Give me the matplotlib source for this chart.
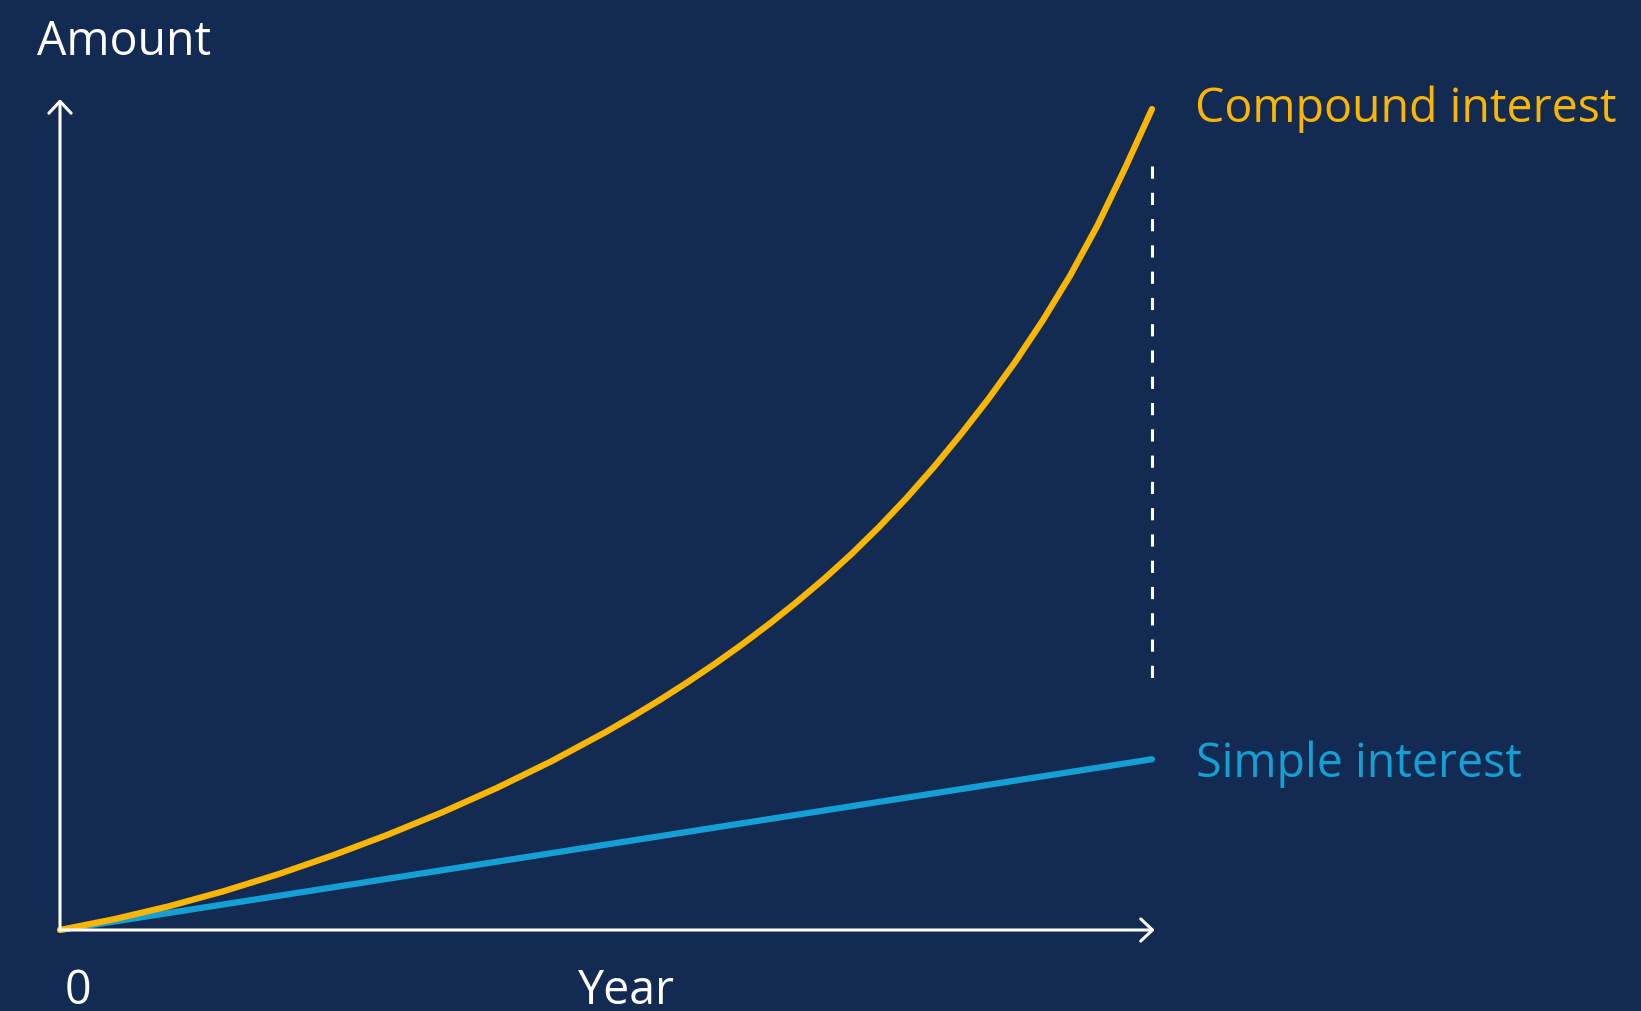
"""Simple vs compound interest: growth of an amount over the years."""

import matplotlib.pyplot as plt

# values (amount scaled so the compound end = 100)
YEARS_COMPOUND = [0, 1, 2, 3, 4, 5, 6, 7, 8, 9, 10, 10.5, 11, 11.5, 12,
                  12.5, 13, 13.5, 14, 14.5, 15, 15.5, 16, 16.5, 17, 17.5,
                  18, 18.5, 19, 19.5, 20]
AMOUNT_COMPOUND = [0, 1.33, 2.90, 4.73, 6.80, 9.10, 11.60, 14.33, 17.30,
                   20.55, 24.13, 26.06, 28.08, 30.21, 32.45, 34.82, 37.33,
                   39.99, 42.80, 45.82, 49.08, 52.58, 56.35, 60.38, 64.65,
                   69.25, 74.25, 79.7, 85.8, 92.7, 100.0]
YEARS_SIMPLE = [0, 20]
AMOUNT_SIMPLE = [0, 20.8]
# dashed gap marker at the final year
GAP_YEAR = [20, 20]
GAP_AMOUNT = [93.1, 29.2]

LABEL_Y = "Amount"
LABEL_X = "Year"
LABEL_ZERO = "0"
LABEL_COMPOUND = "Compound interest"
LABEL_SIMPLE = "Simple interest"

BG = "#132A52"
YELLOW = "#FAB600"
BLUE = "#14A0D5"
WHITE = "#FFFFFF"

W, H = 1641, 1012
FONT = "Open Sans"
FS = 33.5


def fx(px):
    return px / W


def fy(py):
    return 1 - py / H


def main() -> None:
    fig = plt.figure(figsize=(W / 100, H / 100), dpi=100, facecolor=BG)
    # axes box: year 0 -> 20 spans px 60..1152, amount 0 -> 100 spans px 931..110
    ax = fig.add_axes([fx(60), fy(931), (1152 - 60) / W, (931 - 110) / H])
    ax.set_facecolor(BG)
    ax.set_xlim(0, 20)
    ax.set_ylim(0, 100)
    ax.axis("off")

    arrow = dict(arrowstyle="->,head_length=0.85,head_width=0.8",
                 color=WHITE, lw=2.2, shrinkA=0, shrinkB=0)
    ax.annotate("", xy=(0, 101.2), xytext=(0, 0), arrowprops=arrow,
                annotation_clip=False)
    ax.annotate("", xy=(20.05, 0), xytext=(0, 0), arrowprops=arrow,
                annotation_clip=False)

    ax.plot(GAP_YEAR, GAP_AMOUNT, color=WHITE, lw=2.2,
            linestyle=(0, (4.0, 4.6)), clip_on=False)
    ax.plot(YEARS_SIMPLE, AMOUNT_SIMPLE, color=BLUE, lw=4.5,
            solid_capstyle="round", clip_on=False)
    ax.plot(YEARS_COMPOUND, AMOUNT_COMPOUND, color=YELLOW, lw=4.5,
            solid_capstyle="round", solid_joinstyle="round", clip_on=False)

    txt = dict(family=FONT, fontsize=FS, va="baseline")
    fig.text(fx(37), fy(55), LABEL_Y, color=WHITE, ha="left", **txt)
    fig.text(fx(77.5), fy(1004), LABEL_ZERO, color=WHITE, ha="center", **txt)
    fig.text(fx(626.5), fy(1004), LABEL_X, color=WHITE, ha="center", **txt)
    fig.text(fx(1195), fy(122), LABEL_COMPOUND, color=YELLOW, ha="left", **txt)
    fig.text(fx(1196), fy(777), LABEL_SIMPLE, color=BLUE, ha="left", **txt)

    plt.savefig("out.png", dpi=100, facecolor=BG)
    plt.close()


if __name__ == "__main__":
    main()
